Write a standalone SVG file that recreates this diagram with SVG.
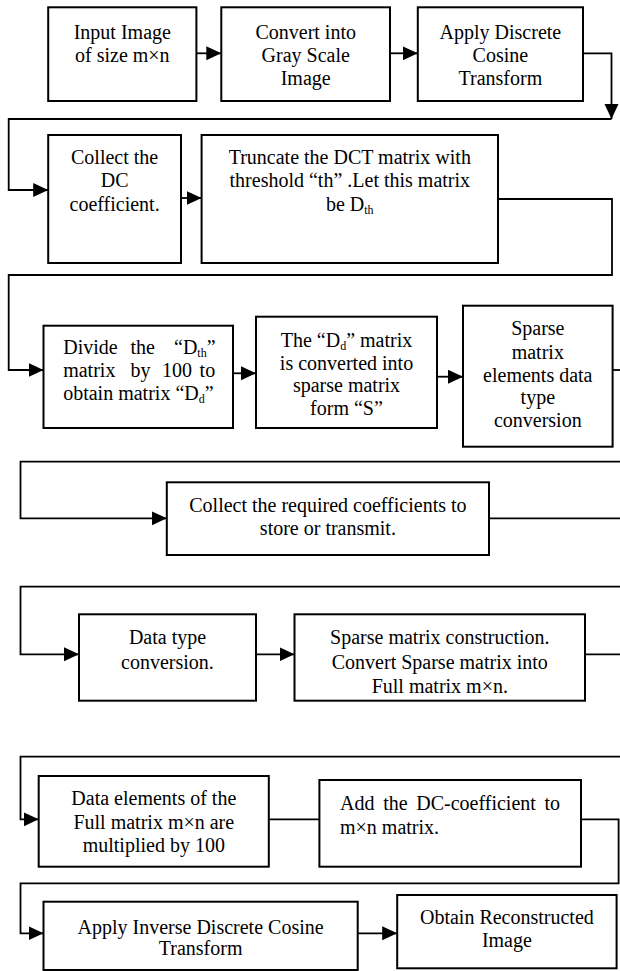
<svg xmlns="http://www.w3.org/2000/svg" width="620" height="971" viewBox="0 0 620 971">
  <style>
    .box { fill: #fff; stroke: #000; stroke-width: 2; }
    .wire { fill: none; stroke: #000; stroke-width: 1.8; }
    text { font-family: "Liberation Serif", "Times New Roman", serif; font-size: 20px; fill: #000; }
    .c { text-anchor: middle; }
    .sub { font-size: 12px; }
  </style>
  <defs>
    <marker id="head" markerUnits="userSpaceOnUse" markerWidth="16" markerHeight="15" refX="15" refY="7" orient="auto">
      <path d="M0,0 L15,7 L0,14 z" fill="#000"/>
    </marker>
  </defs>
  <rect width="620" height="971" fill="#fff"/>

  <!-- connectors -->
  <g id="connectors">
    <path class="wire" d="M196.4,53.3 H221.3" marker-end="url(#head)"/>
    <path class="wire" d="M390,53.3 H417.8" marker-end="url(#head)"/>
    <path class="wire" d="M583,53.3 H611.5 V119" marker-end="url(#head)"/>
    <path class="wire" d="M611.5,119 H8.7 V190 H48.2" marker-end="url(#head)"/>
    <path class="wire" d="M181,198 H201.6" marker-end="url(#head)"/>
    <path class="wire" d="M498,199 H612 V275 H8.7 V370 H43.5" marker-end="url(#head)"/>
    <path class="wire" d="M233,373.3 H256" marker-end="url(#head)"/>
    <path class="wire" d="M437,376.7 H463" marker-end="url(#head)"/>
    <path class="wire" d="M612.6,370 H620"/>
    <path class="wire" d="M620,461.7 H20.5 V518.3 H166.8" marker-end="url(#head)"/>
    <path class="wire" d="M489,518.3 H620"/>
    <path class="wire" d="M620,586.7 H20.5 V654.3 H79" marker-end="url(#head)"/>
    <path class="wire" d="M256,654.3 H294.5" marker-end="url(#head)"/>
    <path class="wire" d="M585,654.3 H620"/>
    <path class="wire" d="M620,756.7 H20.5 V819.3 H38.7" marker-end="url(#head)"/>
    <path class="wire" d="M268.8,819.3 H319.4"/>
    <path class="wire" d="M581,819.3 H618.6 V883.3 H20.5 V933.3 H43.5" marker-end="url(#head)"/>
    <path class="wire" d="M357.7,933.3 H397.2" marker-end="url(#head)"/>
  </g>

  <g id="input">
    <rect class="box" x="48.2" y="7.3" width="148.2" height="93.7"/>
    <text class="c" x="122.3" y="38.7">Input Image</text>
    <text class="c" x="122.3" y="62">of size m×n</text>
  </g>

  <g id="gray">
    <rect class="box" x="221.3" y="7.3" width="168.7" height="93.7"/>
    <text class="c" x="305.7" y="38.7">Convert into</text>
    <text class="c" x="305.7" y="62">Gray Scale</text>
    <text class="c" x="305.7" y="85.3">Image</text>
  </g>

  <g id="dct">
    <rect class="box" x="417.8" y="7.3" width="165.2" height="93.7"/>
    <text class="c" x="500.4" y="38.7">Apply Discrete</text>
    <text class="c" x="500.4" y="62">Cosine</text>
    <text class="c" x="500.4" y="85.3">Transform</text>
  </g>

  <g id="dc">
    <rect class="box" x="48.2" y="135" width="132.8" height="128"/>
    <text class="c" x="114.6" y="164">Collect the</text>
    <text class="c" x="114.6" y="187">DC</text>
    <text class="c" x="114.6" y="211">coefficient.</text>
  </g>

  <g id="truncate">
    <rect class="box" x="201.6" y="135" width="296.4" height="128"/>
    <text class="c" x="349.8" y="164">Truncate the DCT matrix with</text>
    <text class="c" x="349.8" y="187">threshold “th” .Let this matrix</text>
    <text class="c" x="349.8" y="211">be D<tspan class="sub" dy="3">th</tspan></text>
  </g>

  <g id="divide">
    <rect class="box" x="43.5" y="325.7" width="189.5" height="102.3"/>
    <text y="353.7"><tspan x="63.2">Divide</tspan><tspan x="130.4">the</tspan><tspan x="174">“D</tspan><tspan class="sub" dy="3">th</tspan><tspan dy="-3">”</tspan></text>
    <text y="377"><tspan x="63.2">matrix</tspan><tspan x="130.4">by</tspan><tspan x="162">100</tspan><tspan x="199.6">to</tspan></text>
    <text x="63.2" y="400.3">obtain matrix “D<tspan class="sub" dy="3">d</tspan><tspan dy="-3">”</tspan></text>
  </g>

  <g id="sparse-form">
    <rect class="box" x="256" y="316.7" width="181" height="111.3"/>
    <text class="c" x="346.5" y="347">The “D<tspan class="sub" dy="3">d</tspan><tspan dy="-3">” matrix</tspan></text>
    <text class="c" x="346.5" y="369.7">is converted into</text>
    <text class="c" x="346.5" y="392">sparse matrix</text>
    <text class="c" x="346.5" y="414.7">form “S”</text>
  </g>

  <g id="sparse-type">
    <rect class="box" x="463" y="305.7" width="149.6" height="141"/>
    <text class="c" x="537.8" y="335">Sparse</text>
    <text class="c" x="537.8" y="358.7">matrix</text>
    <text class="c" x="537.8" y="382">elements data</text>
    <text class="c" x="537.8" y="404">type</text>
    <text class="c" x="537.8" y="427">conversion</text>
  </g>

  <g id="store">
    <rect class="box" x="166.8" y="482.3" width="322.2" height="72.7"/>
    <text class="c" x="327.9" y="512">Collect the required coefficients to</text>
    <text class="c" x="327.9" y="535.3">store or transmit.</text>
  </g>

  <g id="dtype">
    <rect class="box" x="79" y="614.3" width="177" height="86.4"/>
    <text class="c" x="167.5" y="644.3">Data type</text>
    <text class="c" x="167.5" y="668.7">conversion.</text>
  </g>

  <g id="construct">
    <rect class="box" x="294.5" y="614.3" width="290.5" height="86.4"/>
    <text class="c" x="439.8" y="644.3">Sparse matrix construction.</text>
    <text class="c" x="439.8" y="668.7">Convert Sparse matrix into</text>
    <text class="c" x="439.8" y="693">Full matrix m×n.</text>
  </g>

  <g id="multiply">
    <rect class="box" x="38.7" y="776" width="230.1" height="90.7"/>
    <text class="c" x="153.8" y="805">Data elements of the</text>
    <text class="c" x="153.8" y="828.7">Full matrix m×n are</text>
    <text class="c" x="153.8" y="852">multiplied by 100</text>
  </g>

  <g id="add-dc">
    <rect class="box" x="319.4" y="780" width="261.6" height="86.7"/>
    <text x="340" y="810.3" word-spacing="3.7">Add the DC-coefficient to</text>
    <text x="340" y="833.7">m×n matrix.</text>
  </g>

  <g id="idct">
    <rect class="box" x="43.5" y="901.7" width="314.2" height="68.3"/>
    <text class="c" x="200.6" y="933.7">Apply Inverse Discrete Cosine</text>
    <text class="c" x="200.6" y="955.3">Transform</text>
  </g>

  <g id="output">
    <rect class="box" x="397.2" y="895" width="219.4" height="73.3"/>
    <text class="c" x="506.9" y="923.7">Obtain Reconstructed</text>
    <text class="c" x="506.9" y="947">Image</text>
  </g>
</svg>
